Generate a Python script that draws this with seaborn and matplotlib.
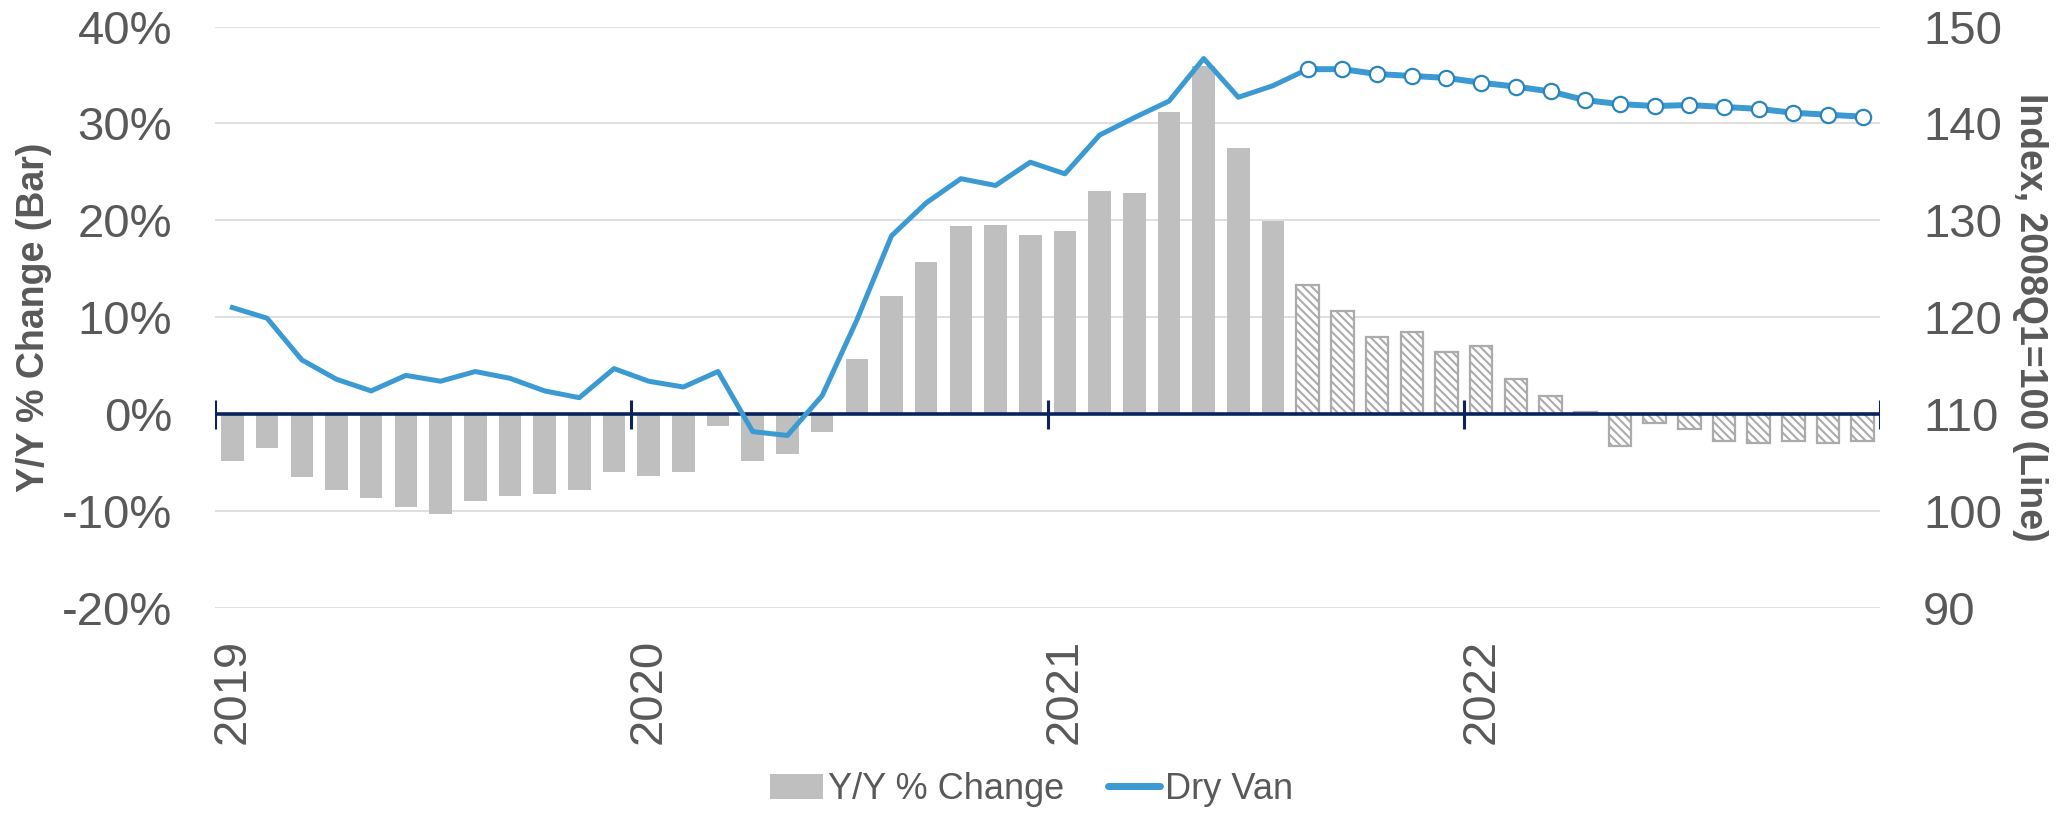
import numpy as np
import pandas as pd
import matplotlib
matplotlib.use("Agg")
import matplotlib.pyplot as plt
import seaborn as sns
from matplotlib.patches import Patch
from matplotlib.lines import Line2D

# monthly data, Jan 2019 - Dec 2022
months = pd.date_range("2019-01-01", periods=48, freq="MS")
yoy_pct = [-4.8, -3.5, -6.5, -7.8, -8.6, -9.6, -10.3, -9.0, -8.4, -8.2, -7.8, -6.0,
           -6.4, -6.0, -1.2, -4.8, -4.1, -1.8, 5.7, 12.2, 15.7, 19.4, 19.5, 18.5,
           18.9, 23.0, 22.8, 31.2, 35.9, 27.5, 19.9, 13.3, 10.6, 8.0, 8.5, 6.4,
           7.0, 3.6, 1.9, 0.2, -3.3, -0.9, -1.5, -2.8, -3.0, -2.8, -3.0, -2.8]
dry_van = [121.0, 119.9, 115.6, 113.6, 112.4, 114.0, 113.4, 114.4, 113.7, 112.4, 111.7, 114.7,
           113.4, 112.8, 114.4, 108.2, 107.8, 111.9, 119.7, 128.4, 131.8, 134.3, 133.6, 136.0,
           134.8, 138.8, 140.6, 142.3, 146.7, 142.7, 143.9, 145.6, 145.6, 145.1, 144.9, 144.7,
           144.2, 143.8, 143.3, 142.4, 142.0, 141.8, 141.9, 141.7, 141.5, 141.1, 140.9, 140.7]
forecast_start = "2021-08"

df = pd.DataFrame({"month": months.strftime("%Y-%m"), "yoy": yoy_pct, "index": dry_van})
df["pos"] = range(len(df))
fc = df.index[df["month"] == forecast_start][0]

gray = "#BFBFBF"
blue = "#3A9AD1"
navy = "#0B2260"
txt = "#595959"

plt.rcParams["font.family"] = ["Liberation Sans", "DejaVu Sans"]
plt.rcParams["hatch.linewidth"] = 1.5

fig = plt.figure(figsize=(20.64, 8.14), dpi=100)
ax = fig.add_axes([0.1042, 0.2531, 0.8067, 0.7143])

sns.barplot(data=df, x="month", y="yoy", color=gray, saturation=1,
            width=0.65, ax=ax, zorder=2)
for i, bar in enumerate(ax.patches):
    if i >= fc:
        bar.set_facecolor("white")
        bar.set_edgecolor("#ABABAB")
        bar.set_hatch("\\\\\\\\")
        bar.set_linewidth(1.6)

ax.set_xlim(-0.5, len(df) - 0.5)
ax.set_ylim(-20, 40)
ax.set_yticks(range(-20, 41, 10))
ax.set_yticklabels([f"{v}%" for v in range(-20, 41, 10)])
ax.grid(axis="y", color="#D9D9D9", lw=1.2, zorder=0)
ax.set_axisbelow(True)

jan = df.index[df["month"].str.endswith("-01")]
ax.set_xticks(jan)
ax.set_xticklabels(df.loc[jan, "month"].str[:4])
ax.tick_params(axis="x", length=0, pad=22, labelsize=34, labelrotation=90, colors=txt)
ax.tick_params(axis="y", length=0, pad=31, labelsize=34, colors=txt)
ax.set_xlabel("")
ax.set_ylabel("Y/Y % Change (Bar)", fontsize=27, fontweight="bold", color=txt,
              va="center", ha="center")
ax.yaxis.set_label_coords(-0.109, 0.5)
for s in ax.spines.values():
    s.set_visible(False)

# category axis at zero with year tick marks
ax.axhline(0, color=navy, lw=2.6, zorder=3)
bounds = list(jan - 0.5) + [len(df) - 0.5]
ax.vlines(bounds, -1.5, 1.5, color=navy, lw=2.2, zorder=3)

ax2 = ax.twinx()
sns.lineplot(data=df.iloc[:fc + 1], x="pos", y="index", color=blue, lw=3.6,
             ax=ax2, sort=False, errorbar=None)
sns.lineplot(data=df.iloc[fc:], x="pos", y="index", color=blue, lw=4.3,
             marker="o", markersize=11, markerfacecolor="white",
             markeredgecolor="#2A84BE", markeredgewidth=1.6,
             ax=ax2, sort=False, errorbar=None)
ax2.set_ylim(90, 150)
ax2.set_yticks(range(90, 151, 10))
ax2.tick_params(axis="y", length=0, pad=31, labelsize=34, colors=txt)
ax2.set_xlabel("")
ax2.set_ylabel("Index, 2008Q1=100 (Line)", fontsize=27, fontweight="bold",
               color=txt, rotation=270, va="center", ha="center")
ax2.yaxis.set_label_coords(1.0901, 0.5)
for s in ax2.spines.values():
    s.set_visible(False)
ax2.set_xlim(-0.5, len(df) - 0.5)

handles = [Patch(facecolor=gray, edgecolor="none"),
           Line2D([0], [0], color=blue, lw=5, solid_capstyle="round")]
fig.legend(handles, ["Y/Y % Change", "Dry Van"], loc="center",
           bbox_to_anchor=(0.5, 0.03), ncol=2, frameon=False, fontsize=26,
           labelcolor=txt, handlelength=1.45, handletextpad=0.15,
           columnspacing=1.2)

fig.savefig("out.png", dpi=100)
